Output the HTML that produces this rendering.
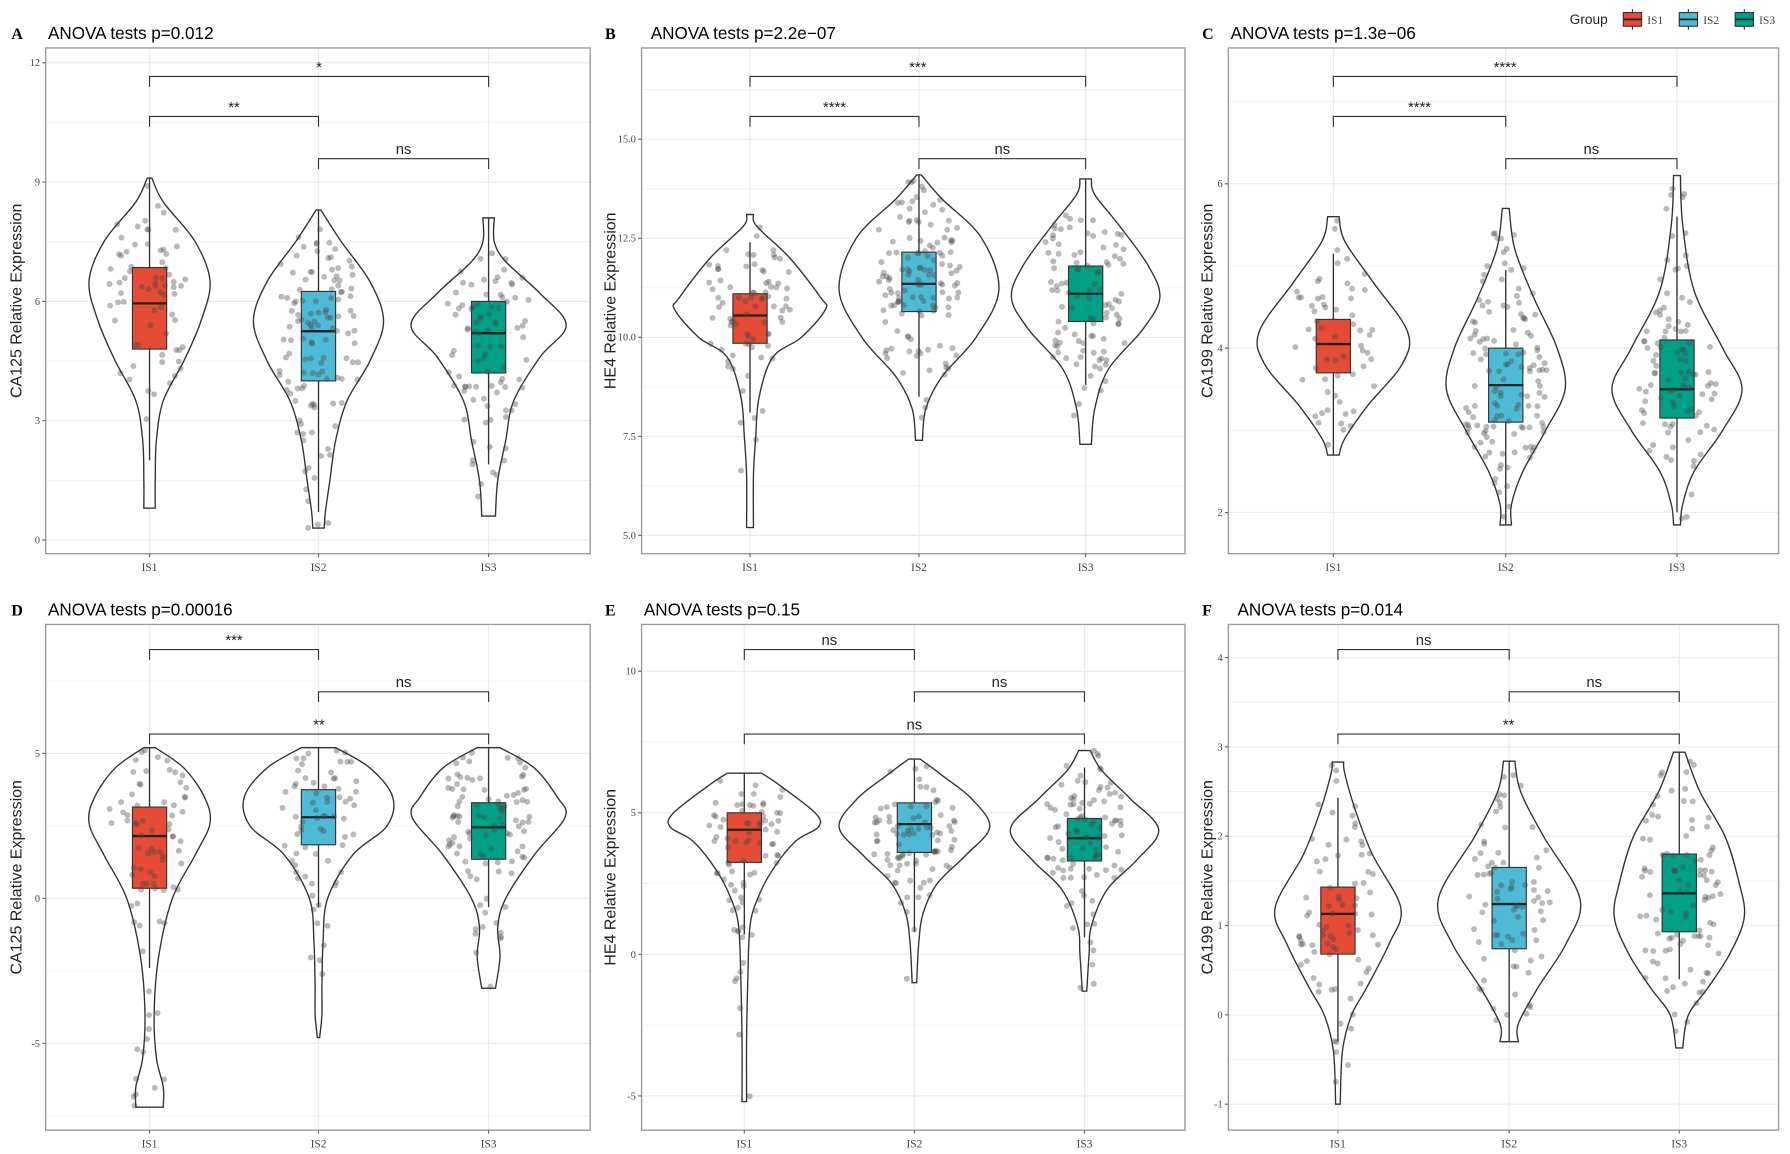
<!DOCTYPE html>
<html><head><meta charset="utf-8">
<style>
html,body{margin:0;padding:0;background:#fff;}
svg{display:block;}
</style></head>
<body>
<svg id="s" xmlns="http://www.w3.org/2000/svg" width="1790" height="1154" viewBox="0 0 1568 1010.9" preserveAspectRatio="none"></svg>
<script>
var S=document.getElementById('s');var out=[];
var COL=['#E64B35','#4DBBD5','#00A087'];
var seed=12345;function rnd(){seed=(seed*1103515245+12345)%2147483648;return seed/2147483648;}
function cat(pts){
 var d='M'+pts[0][0]+','+pts[0][1];
 for(var i=0;i<pts.length-1;i++){var p0=pts[i-1]||pts[i],p1=pts[i],p2=pts[i+1],p3=pts[i+2]||p2;
 var c1=[p1[0]+(p2[0]-p0[0])/6,p1[1]+(p2[1]-p0[1])/6],c2=[p2[0]-(p3[0]-p1[0])/6,p2[1]-(p3[1]-p1[1])/6];
 d+='C'+c1[0].toFixed(1)+','+c1[1].toFixed(1)+' '+c2[0].toFixed(1)+','+c2[1].toFixed(1)+' '+p2[0].toFixed(1)+','+p2[1].toFixed(1);}
 return d;}
function panel(P){
 var x0=P.box[0],x1=P.box[1],y0=P.box[2],y1=P.box[3];
 var Y=function(v){return P.ya+(v-P.v0)*(P.yb-P.ya)/(P.v1-P.v0);};
 out.push('<text x="'+P.lx+'" y="'+(y0-8)+'" font-family="Liberation Serif,serif" font-weight="bold" font-size="14">'+P.L+'</text>');
 out.push('<text x="'+P.tx+'" y="'+(y0-8)+'" font-family="Liberation Sans,sans-serif" font-size="15">'+P.title+'</text>');
 out.push('<rect x="'+x0+'" y="'+y0+'" width="'+(x1-x0)+'" height="'+(y1-y0)+'" fill="#fff"/>');
 var t=P.ticks,step=t[1]-t[0];
 for(var v=t[0]-step/2;v<=t[t.length-1]+step;v+=step/2){var yy=Y(v);if(yy>y0&&yy<y1)out.push('<line x1="'+x0+'" x2="'+x1+'" y1="'+yy+'" y2="'+yy+'" stroke="#ebebeb" stroke-width="'+(Math.abs((v-t[0])/step-Math.round((v-t[0])/step))<0.01?1.1:0.6)+'"/>');}
 P.cx.forEach(function(c){out.push('<line x1="'+c+'" x2="'+c+'" y1="'+y0+'" y2="'+y1+'" stroke="#ebebeb" stroke-width="1.1"/>');});
 P.g.forEach(function(G,i){var c=P.cx[i];var pr=G.p;
  var R=pr.map(function(q){return [c+q[1],Y(q[0])];}),Lf=pr.slice().reverse().map(function(q){return [c-q[1],Y(q[0])];});
  var dR=cat(R),dL=cat(Lf).replace(/^M/,'L');
  out.push('<path d="'+dR+' '+dL+'Z" fill="#fff" stroke="#333" stroke-width="1.2"/>');
  out.push('<line x1="'+c+'" x2="'+c+'" y1="'+Y(G.w[0])+'" y2="'+Y(G.w[1])+'" stroke="#333" stroke-width="1.2"/>');
  out.push('<rect x="'+(c-15)+'" y="'+Y(G.b[2])+'" width="30" height="'+(Y(G.b[0])-Y(G.b[2]))+'" fill="'+COL[i]+'" stroke="#333" stroke-width="1"/>');
  out.push('<line x1="'+(c-15)+'" x2="'+(c+15)+'" y1="'+Y(G.b[1])+'" y2="'+Y(G.b[1])+'" stroke="#222" stroke-width="2"/>');
  var top=pr[0][0],bot=pr[pr.length-1][0],wm=0;pr.forEach(function(q){wm=Math.max(wm,q[1]);});
  var n=0,tries=0;while(n<G.n&&tries<5000){tries++;var v=bot+(top-bot)*rnd();
   var w=0;for(var k=0;k<pr.length-1;k++){if(v<=pr[k][0]&&v>=pr[k+1][0]){var f=(v-pr[k+1][0])/(pr[k][0]-pr[k+1][0]);w=pr[k+1][1]+f*(pr[k][1]-pr[k+1][1]);}}
   if(rnd()*wm>w)continue;var dx=(rnd()*2-1)*Math.min(45,w+8)*0.8;
   out.push('<circle cx="'+(c+dx).toFixed(1)+'" cy="'+Y(v).toFixed(1)+'" r="2.6" fill="rgba(70,70,70,0.38)"/>');n++;}
 });
 out.push('<rect x="'+x0+'" y="'+y0+'" width="'+(x1-x0)+'" height="'+(y1-y0)+'" fill="none" stroke="#999" stroke-width="1.2"/>');
 t.forEach(function(v){var yy=Y(v);out.push('<line x1="'+(x0-3)+'" x2="'+x0+'" y1="'+yy+'" y2="'+yy+'" stroke="#666"/>');
  out.push('<text x="'+(x0-5)+'" y="'+(yy+3)+'" text-anchor="end" font-family="Liberation Serif,serif" font-size="9" fill="#444">'+(P.fmt?v.toFixed(1):v)+'</text>');});
 ['IS1','IS2','IS3'].forEach(function(s,i){out.push('<line x1="'+P.cx[i]+'" x2="'+P.cx[i]+'" y1="'+y1+'" y2="'+(y1+3)+'" stroke="#666"/>');
  out.push('<text x="'+P.cx[i]+'" y="'+(y1+15)+'" text-anchor="middle" font-family="Liberation Serif,serif" font-size="10" fill="#444">'+s+'</text>');});
 var my=(y0+y1)/2;out.push('<text transform="translate('+(P.lx+9)+','+my+') rotate(-90)" text-anchor="middle" font-family="Liberation Sans,sans-serif" font-size="14" fill="#222">'+P.ylab+'</text>');
 P.br.forEach(function(b){var a=P.cx[b[0]],e=P.cx[b[1]],yy=b[2];
  out.push('<path d="M'+a+','+(yy+9)+'V'+yy+'H'+e+'V'+(yy+9)+'" fill="none" stroke="#333" stroke-width="1"/>');
  out.push('<text x="'+((a+e)/2)+'" y="'+(yy-4)+'" text-anchor="middle" font-family="Liberation Sans,sans-serif" font-size="13" fill="#222">'+b[3]+'</text>');});
}
var R1=[42,485],R2=[547,990];
panel({L:'A',lx:10,tx:42,title:'ANOVA tests p=0.012',box:[40,517,R1[0],R1[1]],cx:[131,279,428],v0:0,v1:12,ya:473,yb:55,ticks:[0,3,6,9,12],ylab:'CA125 Relative Expression',
 br:[[0,2,67,'*'],[0,1,102,'**'],[1,2,139,'ns']],g:[
 {p:[[9.1,2],[8.5,12],[7.5,40],[6.5,53],[5.5,45],[4.5,30],[3.5,12],[2.5,6],[1.5,5],[0.8,5]],b:[4.8,5.95,6.85],w:[2.0,9.1],n:70},
 {p:[[8.3,2],[7.5,20],[6.5,45],[5.5,57],[4.5,45],[3.5,25],[2.5,15],[1.5,10],[0.7,6],[0.3,5]],b:[4.0,5.25,6.25],w:[0.7,8.3],n:120},
 {p:[[8.1,5],[7.5,5],[7,15],[6.2,45],[5.4,68],[4.6,45],[3.5,22],[2.5,15],[1.5,8],[0.6,6]],b:[4.2,5.2,6.0],w:[1.9,8.1],n:90}]});
panel({L:'B',lx:530,tx:570,title:'ANOVA tests p=2.2e−07',box:[562,1038,R1[0],R1[1]],cx:[657,805,951],v0:5,v1:15,ya:469,yb:122,ticks:[5,7.5,10,12.5,15],fmt:1,ylab:'HE4 Relative Expression',
 br:[[0,2,67,'***'],[0,1,102,'****'],[1,2,139,'ns']],g:[
 {p:[[13.1,3],[12.8,6],[12,35],[11,62],[10.7,66],[10,45],[9.5,20],[8.5,8],[7.5,5],[6.5,3],[5.2,3]],b:[9.85,10.55,11.1],w:[8.1,12.4],n:80},
 {p:[[14.1,2],[13.5,20],[12.5,55],[11.2,70],[10,50],[9,20],[8.2,6],[7.4,3]],b:[10.65,11.35,12.15],w:[8.5,14.1],n:130},
 {p:[[14,5],[13.6,8],[12.8,30],[11.8,55],[11,65],[10.2,50],[9.2,20],[8.2,8],[7.3,5]],b:[10.4,11.1,11.8],w:[8.8,14],n:100}]});
panel({L:'C',lx:1053,tx:1078,title:'ANOVA tests p=1.3e−06',box:[1076,1558,R1[0],R1[1]],cx:[1168,1319,1469],v0:2,v1:6,ya:449,yb:161,ticks:[2,4,6],ylab:'CA199 Relative Expression',
 br:[[0,2,67,'****'],[0,1,102,'****'],[1,2,139,'ns']],g:[
 {p:[[5.6,5],[5.3,10],[4.8,35],[4.2,65],[3.8,60],[3.3,30],[2.9,10],[2.7,5]],b:[3.7,4.05,4.35],w:[2.7,5.15],n:60},
 {p:[[5.7,3],[5.2,8],[4.6,25],[4,45],[3.5,52],[3,35],[2.5,15],[2.1,5],[1.85,5]],b:[3.1,3.55,4.0],w:[1.85,4.95],n:130},
 {p:[[6.1,3],[5.5,5],[4.7,15],[4,40],[3.5,57],[3,40],[2.5,15],[2.1,5],[1.85,3]],b:[3.15,3.5,4.1],w:[2.0,5.6],n:100}]});
panel({L:'D',lx:10,tx:42,title:'ANOVA tests p=0.00016',box:[40,517,R2[0],R2[1]],cx:[131,279,428],v0:0,v1:5,ya:787,yb:660,ticks:[-5,0,5],ylab:'CA125 Relative Expression',
 br:[[0,1,569,'***'],[1,2,606,'ns'],[0,2,643,'**']],g:[
 {p:[[5.2,5],[4.5,30],[3.5,48],[2.6,53],[1.5,40],[0,20],[-2,8],[-4,4],[-5.5,6],[-6.5,12],[-7.2,12]],b:[0.35,2.15,3.15],w:[-2.4,5.2],n:80},
 {p:[[5.2,15],[4.5,45],[3.5,65],[2.5,60],[1.5,30],[0,8],[-1.5,4],[-3,3],[-4,3],[-4.8,1]],b:[1.85,2.8,3.75],w:[-0.3,5.2],n:70},
 {p:[[5.2,10],[4.5,40],[3.5,60],[2.8,67],[1.5,40],[0,15],[-1,8],[-2,10],[-3.1,6]],b:[1.35,2.45,3.3],w:[-0.3,5.2],n:100}]});
panel({L:'E',lx:530,tx:564,title:'ANOVA tests p=0.15',box:[562,1038,R2[0],R2[1]],cx:[652,801,950],v0:0,v1:10,ya:836,yb:588,ticks:[-5,0,5,10],ylab:'HE4 Relative Expression',
 br:[[0,1,569,'ns'],[1,2,606,'ns'],[0,2,643,'ns']],g:[
 {p:[[6.4,15],[6,30],[5,62],[4.5,65],[4,45],[3,25],[2,12],[1,5],[-1,3],[-3,2],[-5.2,2]],b:[3.25,4.4,5.0],w:[0.7,6.4],n:80},
 {p:[[6.9,5],[6.3,25],[5.5,50],[4.5,66],[3.5,45],[2.5,20],[1.5,8],[0.5,4],[-1,2]],b:[3.6,4.6,5.35],w:[0.8,6.9],n:90},
 {p:[[7.2,5],[6.5,15],[5.5,40],[4.4,65],[3.3,45],[2.3,20],[1,6],[0,4],[-1.3,2]],b:[3.3,4.1,4.8],w:[0.6,6.6],n:100}]});
panel({L:'F',lx:1053,tx:1084,title:'ANOVA tests p=0.014',box:[1076,1558,R2[0],R2[1]],cx:[1172,1322,1471],v0:0,v1:4,ya:889,yb:576,ticks:[-1,0,1,2,3,4],ylab:'CA199 Relative Expression',
 br:[[0,1,569,'ns'],[1,2,606,'ns'],[0,2,643,'**']],g:[
 {p:[[2.83,5],[2.7,6],[2.3,15],[1.8,30],[1.2,55],[0.8,45],[0.3,25],[0,12],[-0.4,4],[-1,2]],b:[0.68,1.13,1.43],w:[-0.3,2.43],n:80},
 {p:[[2.84,5],[2.5,10],[2,30],[1.3,62],[0.8,50],[0.3,25],[-0.1,8],[-0.3,8]],b:[0.74,1.24,1.65],w:[-0.3,2.84],n:80},
 {p:[[2.94,5],[2.5,18],[2,40],[1.5,52],[1.1,57],[0.7,45],[0.3,25],[0,8],[-0.37,3]],b:[0.93,1.36,1.8],w:[0.4,2.94],n:100}]});
out.push('<text x="1375" y="21" font-family="Liberation Sans,sans-serif" font-size="12" fill="#222">Group</text>');
[[1422,'IS1'],[1471,'IS2'],[1520,'IS3']].forEach(function(l,i){
 out.push('<line x1="'+(l[0]+8)+'" x2="'+(l[0]+8)+'" y1="8" y2="26" stroke="#333"/>');
 out.push('<rect x="'+l[0]+'" y="11" width="16" height="12" fill="'+COL[i]+'" stroke="#333"/>');
 out.push('<line x1="'+l[0]+'" x2="'+(l[0]+16)+'" y1="17" y2="17" stroke="#222" stroke-width="1.5"/>');
 out.push('<text x="'+(l[0]+21)+'" y="21" font-family="Liberation Serif,serif" font-size="10" fill="#444">'+l[1]+'</text>');});
S.innerHTML=out.join('');
</script>
</body></html>
